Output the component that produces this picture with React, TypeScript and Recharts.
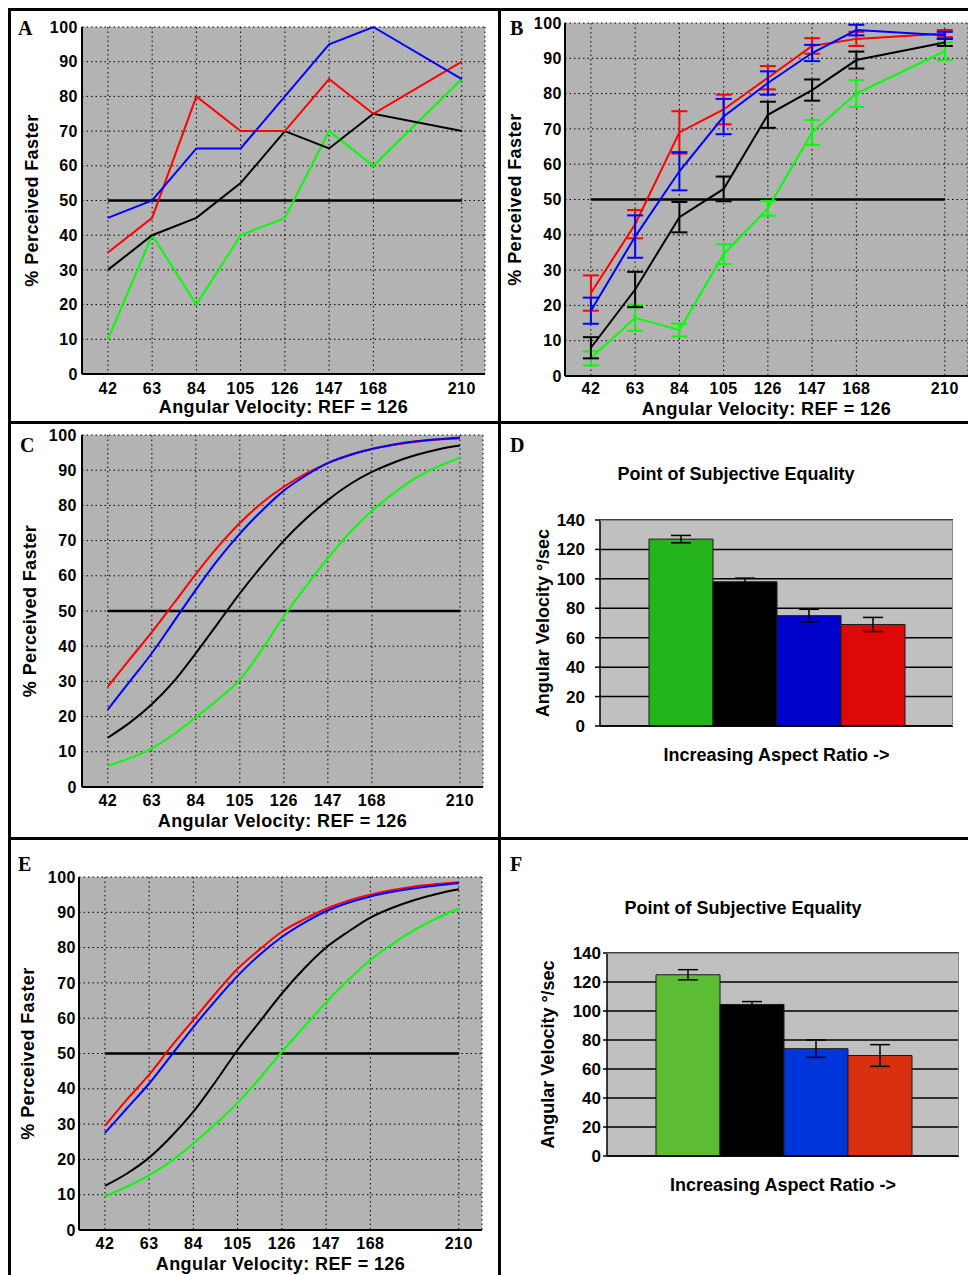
import React from 'react';
import {
  LineChart,
  Line,
  XAxis,
  YAxis,
  CartesianGrid,
  ReferenceLine,
  ErrorBar,
  BarChart,
  Bar,
} from 'recharts';

/* ---------------- data ---------------- */
const VELOCITY = [42, 63, 84, 105, 126, 147, 168, 210];
const PERCENT_TICKS = [0, 10, 20, 30, 40, 50, 60, 70, 80, 90, 100];
const PSE_TICKS = [0, 20, 40, 60, 80, 100, 120, 140];

// A – raw responses, single observer
const aRed = [35, 45, 80, 70, 70, 85, 75, 90];
const aBlue = [45, 50, 65, 65, 80, 95, 100, 85];
const aBlack = [30, 40, 45, 55, 70, 65, 75, 70];
const aGreen = [10, 40, 20, 40, 45, 70, 60, 85];

// B – group means with error bars
const bRed = [23.5, 43, 69, 75.5, 84.5, 93.5, 95.5, 97];
const bRedErr = [5, 4, 6, 4.2, 3.3, 2.2, 2, 1];
const bBlue = [18.5, 39.5, 58, 73.5, 83, 91.5, 98, 96.5];
const bBlueErr = [3.7, 6, 5.4, 5, 3.3, 2.3, 1.5, 1];
const bBlack = [8, 24.5, 45, 53, 74, 81, 89.5, 94.5];
const bBlackErr = [3, 5, 4.3, 3.5, 3.7, 3, 2.4, 1];
const bGreen = [5, 16.5, 13, 34.5, 47.5, 69, 80, 92];
const bGreenErr = [2, 3.7, 1.8, 2.8, 2.1, 3.5, 3.8, 2.5];

// C / E – fitted curves, read at half-step velocities
const FIT_VELOCITY = [42, 52.5, 63, 73.5, 84, 94.5, 105, 115.5, 126, 136.5, 147, 157.5, 168, 178.5, 189, 199.5, 210];
const cRed = [28.5, 36.3, 44, 52.2, 60.5, 68.2, 75, 80.7, 85.3, 89, 92, 94.3, 96, 97.2, 98.1, 98.7, 99];
const cBlue = [22, 30, 38, 47, 56, 64.5, 72, 78.5, 84.2, 88.5, 92, 94.3, 96, 97.3, 98.2, 98.8, 99.3];
const cBlack = [14, 18.3, 23.5, 30, 38, 46.5, 55, 62.8, 70, 76.2, 81.5, 86, 89.5, 92.2, 94.3, 95.9, 97];
const cGreen = [6, 8.2, 11, 15, 19.8, 24.8, 30.5, 39, 48.5, 57, 65, 72.3, 78.5, 83.5, 87.8, 91, 93.5];

const eRed = [29.5, 37, 44, 52, 59.5, 67, 74, 79.5, 84.5, 88, 91, 93.3, 95, 96.3, 97.3, 98, 98.5];
const eBlue = [27.5, 34.5, 41.5, 49.5, 57.5, 65, 72, 78, 83, 87, 90.3, 92.7, 94.5, 95.8, 96.8, 97.6, 98.2];
const eBlack = [12.5, 16, 20.5, 26.5, 33.5, 42, 51, 59, 67, 74, 80, 84.5, 88.5, 91.3, 93.5, 95.2, 96.5];
const eGreen = [9.5, 12.3, 15.5, 19.5, 24.5, 30, 36, 43, 50.5, 57.5, 64.5, 70.8, 76.5, 81, 85, 88.3, 91];

// D / F – point of subjective equality (green, black, blue, red)
const dPse = [127, 98, 75, 69];
const dPseErr = [2.5, 2.5, 4.3, 4.8];
const fPse = [125, 104.5, 74, 69.3];
const fPseErr = [3.5, 2, 6, 7.5];

/* ---------------- styling ---------------- */
const FONT = '"Liberation Sans", Arial, sans-serif';
const SERIF = '"Liberation Serif", "Times New Roman", serif';

type Curve = { key: string; color: string };
const CURVES: Curve[] = [
  { key: 'green', color: '#00ff00' },
  { key: 'black', color: '#000000' },
  { key: 'red', color: '#ff0000' },
  { key: 'blue', color: '#0000ff' },
];

const buildRows = (xs: number[], red: number[], blue: number[], black: number[], green: number[]) =>
  xs.map((v, i) => ({ v, red: red[i], blue: blue[i], black: black[i], green: green[i] }));

const rowsA = buildRows(VELOCITY, aRed, aBlue, aBlack, aGreen);
const rowsB = VELOCITY.map((v, i) => ({
  v,
  red: bRed[i],
  redErr: bRedErr[i],
  blue: bBlue[i],
  blueErr: bBlueErr[i],
  black: bBlack[i],
  blackErr: bBlackErr[i],
  green: bGreen[i],
  greenErr: bGreenErr[i],
}));
const rowsC = buildRows(FIT_VELOCITY, cRed, cBlue, cBlack, cGreen);
const rowsE = buildRows(FIT_VELOCITY, eRed, eBlue, eBlack, eGreen);

type Box = { x: number; y: number; w: number; h: number };
type Plot = { l: number; t: number; r: number; b: number };

interface PsychProps {
  box: Box;
  plot: Plot;
  data: any[];
  smooth?: boolean;
  errors?: boolean;
  xTickGap: number;
  yTickGap: number;
  xLabelOffset: number;
  yLabelOffset: number;
}

const PsychPanel: React.FC<PsychProps> = ({ box, plot, data, smooth, errors, xTickGap, yTickGap, xLabelOffset, yLabelOffset }) => {
  const tickStyle = { fill: '#000', fontSize: 16, fontWeight: 700, fontFamily: FONT, letterSpacing: 0.5 };
  const labelStyle = { fill: '#000', fontSize: 18, fontWeight: 700, fontFamily: FONT, letterSpacing: 0.4 };
  return (
    <div style={{ position: 'absolute', left: box.x, top: box.y }}>
      <LineChart
        width={box.w}
        height={box.h}
        data={data}
        margin={{ top: plot.t - box.y, right: box.x + box.w - plot.r, left: 0, bottom: 0 }}
      >
        <CartesianGrid fill="#b3b3b3" stroke="#000" strokeDasharray="1.5 3" strokeWidth={1} />
        <XAxis
          type="number"
          dataKey="v"
          domain={[29.7, 221]}
          ticks={VELOCITY}
          interval={0}
          height={box.y + box.h - plot.b}
          tickLine={false}
          tickSize={xTickGap}
          tickMargin={0}
          axisLine={{ stroke: '#000', strokeWidth: 2 }}
          tick={tickStyle}
          label={{ value: 'Angular Velocity: REF = 126', position: 'insideBottom', offset: xLabelOffset, ...labelStyle }}
        />
        <YAxis
          type="number"
          domain={[0, 100]}
          ticks={PERCENT_TICKS}
          interval={0}
          width={plot.l - box.x}
          tickLine={false}
          tickSize={yTickGap}
          tickMargin={0}
          axisLine={{ stroke: '#000', strokeWidth: 2 }}
          tick={tickStyle}
          label={{
            value: '% Perceived Faster',
            angle: -90,
            position: 'insideLeft',
            offset: yLabelOffset,
            style: { textAnchor: 'middle' },
            ...labelStyle,
          }}
        />
        <ReferenceLine
          segment={[
            { x: 42, y: 50 },
            { x: 210, y: 50 },
          ]}
          stroke="#000"
          strokeWidth={2.5}
        />
        {CURVES.map((c) => (
          <Line
            key={c.key}
            type={smooth ? 'monotone' : 'linear'}
            dataKey={c.key}
            stroke={c.color}
            strokeWidth={2}
            dot={false}
            isAnimationActive={false}
          >
            {errors && <ErrorBar dataKey={c.key + 'Err'} width={8} stroke={c.color} strokeWidth={2} direction="y" />}
          </Line>
        ))}
      </LineChart>
    </div>
  );
};

const BAR_KEYS = ['green', 'black', 'blue', 'red'];

interface PseProps {
  box: Box;
  plot: Plot;
  values: number[];
  errs: number[];
  colors: string[];
  tickSize: number;
  tickMargin: number;
  yLabelOffset: number;
}

const PsePanel: React.FC<PseProps> = ({ box, plot, values, errs, colors, tickSize, tickMargin, yLabelOffset }) => {
  const data = [
    BAR_KEYS.reduce<Record<string, number | string>>(
      (acc, k, i) => {
        acc[k] = values[i];
        acc[k + 'Err'] = errs[i];
        return acc;
      },
      { name: 'PSE' }
    ),
  ];
  const tickText = { fill: '#000', fontSize: 17, fontWeight: 700, fontFamily: FONT };
  const text = { fill: '#000', fontSize: 18, fontWeight: 700, fontFamily: FONT };
  const xAxisHeight = 40;
  return (
    <div style={{ position: 'absolute', left: box.x, top: box.y }}>
      <BarChart
        width={box.w}
        height={box.h}
        data={data}
        barCategoryGap={49}
        barGap={0}
        margin={{
          top: plot.t - box.y,
          right: box.x + box.w - plot.r,
          left: 0,
          bottom: box.y + box.h - plot.b - xAxisHeight,
        }}
      >
        <CartesianGrid vertical={false} fill="#c0c0c0" stroke="#000" strokeWidth={1.5} />
        <XAxis
          dataKey="name"
          tick={false}
          tickLine={false}
          height={xAxisHeight}
          axisLine={{ stroke: '#000', strokeWidth: 1.5 }}
          label={{ value: 'Increasing Aspect Ratio ->', position: 'insideBottom', offset: 5, ...text }}
        />
        <YAxis
          type="number"
          domain={[0, 140]}
          ticks={PSE_TICKS}
          interval={0}
          width={plot.l - box.x}
          tickSize={tickSize}
          tickMargin={tickMargin}
          tickLine={{ stroke: '#000', strokeWidth: 1.5 }}
          axisLine={{ stroke: '#000', strokeWidth: 1.5 }}
          tick={tickText}
          label={{
            value: 'Angular Velocity °/sec',
            angle: -90,
            position: 'insideLeft',
            offset: yLabelOffset,
            style: { textAnchor: 'middle' },
            ...text,
          }}
        />
        {BAR_KEYS.map((k, i) => (
          <Bar key={k} dataKey={k} fill={colors[i]} stroke="#1a1a1a" strokeWidth={1} isAnimationActive={false}>
            <ErrorBar dataKey={k + 'Err'} width={10} stroke="#000" strokeWidth={1.5} direction="y" />
          </Bar>
        ))}
      </BarChart>
      {/* thin gray frame of the Excel plot area */}
      <div
        style={{
          position: 'absolute',
          left: plot.l - box.x,
          top: plot.t - box.y,
          width: plot.r - plot.l,
          height: plot.b - plot.t,
          borderTop: '1px solid #8a8a8a',
          borderRight: '1px solid #8a8a8a',
          boxSizing: 'border-box',
          pointerEvents: 'none',
        }}
      />
    </div>
  );
};

const rule = (left: number, top: number, width: number, height: number) => (
  <div style={{ position: 'absolute', left, top, width, height, background: '#000' }} />
);

const letter = (ch: string, left: number, top: number) => (
  <div
    style={{
      position: 'absolute',
      left,
      top,
      fontFamily: SERIF,
      fontWeight: 700,
      fontSize: 20,
      lineHeight: '20px',
      color: '#000',
    }}
  >
    {ch}
  </div>
);

const title = (cx: number, top: number) => (
  <div
    style={{
      position: 'absolute',
      left: cx - 200,
      top,
      width: 400,
      textAlign: 'center',
      fontFamily: FONT,
      fontWeight: 700,
      fontSize: 18,
      lineHeight: '18px',
      color: '#000',
    }}
  >
    Point of Subjective Equality
  </div>
);

export default function App() {
  return (
    <div
      style={{
        position: 'absolute',
        left: 0,
        top: 0,
        width: 968,
        height: 1275,
        background: '#fff',
        overflow: 'hidden',
      }}
    >
      <PsychPanel
        box={{ x: 11, y: 11, w: 487, h: 410 }}
        plot={{ l: 82, t: 27, r: 485, b: 374 }}
        data={rowsA}
        xTickGap={9}
        yTickGap={4}
        xLabelOffset={8}
        yLabelOffset={21}
      />
      <PsychPanel
        box={{ x: 501, y: 11, w: 467, h: 410 }}
        plot={{ l: 565, t: 23, r: 968, b: 376 }}
        data={rowsB}
        errors
        xTickGap={7}
        yTickGap={3}
        xLabelOffset={6}
        yLabelOffset={14}
      />
      <PsychPanel
        box={{ x: 11, y: 424, w: 487, h: 413 }}
        plot={{ l: 82, t: 435, r: 483, b: 787 }}
        data={rowsC}
        smooth
        xTickGap={8}
        yTickGap={5}
        xLabelOffset={10}
        yLabelOffset={19}
      />
      <PsePanel
        box={{ x: 501, y: 424, w: 467, h: 413 }}
        plot={{ l: 600, t: 520, r: 953, b: 726 }}
        values={dPse}
        errs={dPseErr}
        colors={['#22b41a', '#000000', '#0000cc', '#dd0808']}
        tickSize={5}
        tickMargin={10}
        yLabelOffset={42}
      />
      <PsychPanel
        box={{ x: 11, y: 841, w: 487, h: 434 }}
        plot={{ l: 79, t: 877, r: 482, b: 1230 }}
        data={rowsE}
        smooth
        xTickGap={8}
        yTickGap={3}
        xLabelOffset={5}
        yLabelOffset={17}
      />
      <PsePanel
        box={{ x: 501, y: 841, w: 467, h: 434 }}
        plot={{ l: 607, t: 953, r: 959, b: 1156 }}
        values={fPse}
        errs={fPseErr}
        colors={['#5cbd34', '#000000', '#0036d9', '#d83010']}
        tickSize={4}
        tickMargin={2}
        yLabelOffset={47}
      />

      {title(736, 465)}
      {title(743, 899)}

      {/* panel frame */}
      {rule(8, 8, 960, 3)}
      {rule(8, 8, 3, 1267)}
      {rule(498, 8, 3, 1267)}
      {rule(8, 421, 960, 3)}
      {rule(8, 837, 960, 3)}

      {letter('A', 18, 18)}
      {letter('B', 510, 18)}
      {letter('C', 20, 435)}
      {letter('D', 510, 435)}
      {letter('E', 18, 854)}
      {letter('F', 510, 854)}
    </div>
  );
}
